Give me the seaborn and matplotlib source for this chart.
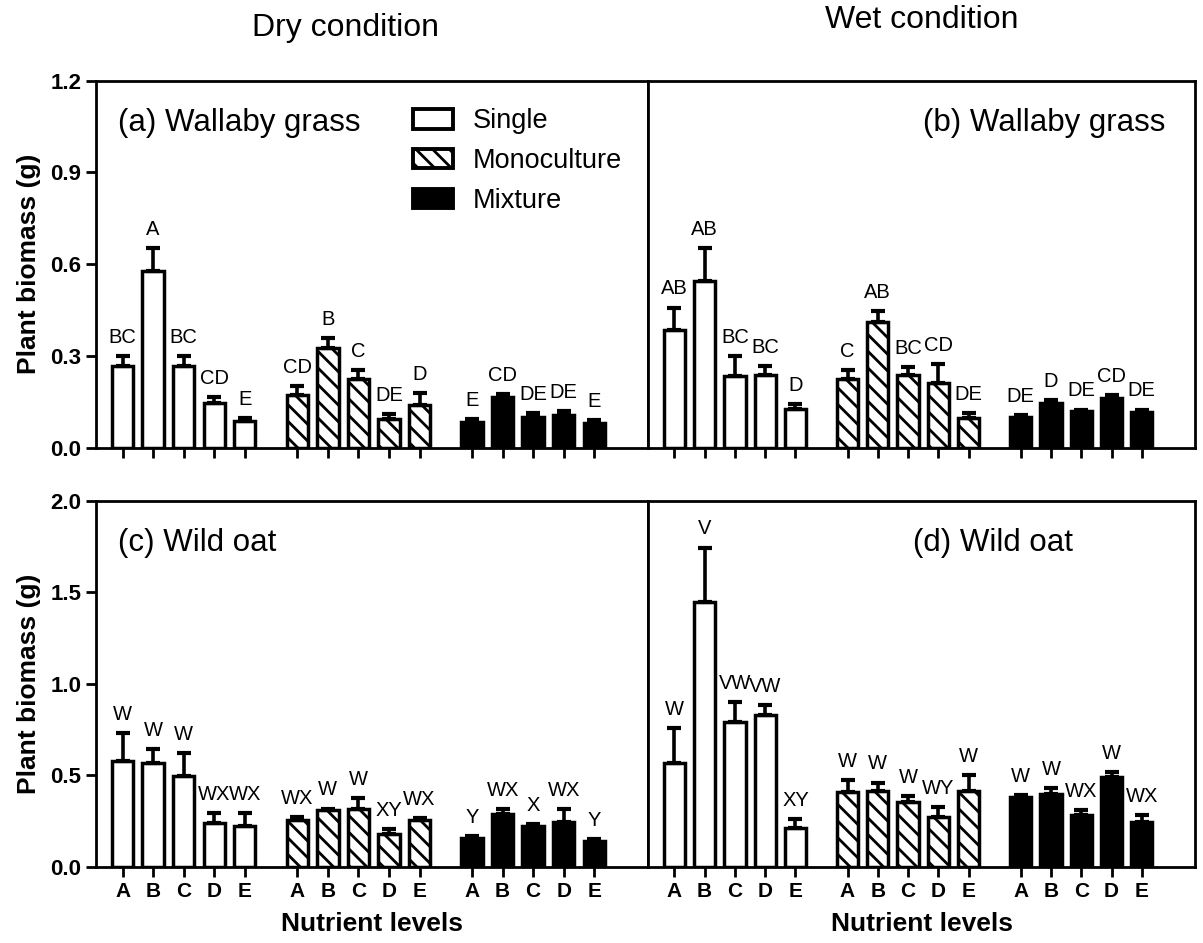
import matplotlib
matplotlib.use("Agg")
import matplotlib.pyplot as plt
from matplotlib.patches import Patch
import seaborn as sns
import numpy as np

levels = ["A", "B", "C", "D", "E"]
treatments = ["Single", "Monoculture", "Mixture"]

# rows: Single, Monoculture, Mixture ; columns: nutrient levels A-E
a_mean = [[0.267, 0.578, 0.267, 0.146, 0.087],
          [0.172, 0.327, 0.224, 0.094, 0.140],
          [0.083, 0.166, 0.100, 0.106, 0.080]]
a_se = [[0.033, 0.075, 0.033, 0.019, 0.010],
        [0.030, 0.031, 0.030, 0.016, 0.038],
        [0.011, 0.009, 0.013, 0.013, 0.010]]
a_let = [["BC", "A", "BC", "CD", "E"],
         ["CD", "B", "C", "DE", "D"],
         ["E", "CD", "DE", "DE", "E"]]

b_mean = [[0.385, 0.545, 0.235, 0.238, 0.127],
          [0.224, 0.411, 0.237, 0.213, 0.098],
          [0.100, 0.145, 0.120, 0.161, 0.118]]
b_se = [[0.073, 0.108, 0.065, 0.029, 0.015],
        [0.030, 0.036, 0.027, 0.060, 0.015],
        [0.006, 0.010, 0.005, 0.010, 0.007]]
b_let = [["AB", "AB", "BC", "BC", "D"],
         ["C", "AB", "BC", "CD", "DE"],
         ["DE", "D", "DE", "CD", "DE"]]

c_mean = [[0.578, 0.567, 0.496, 0.240, 0.223],
          [0.256, 0.311, 0.316, 0.180, 0.256],
          [0.158, 0.289, 0.223, 0.245, 0.142]]
c_se = [[0.153, 0.076, 0.125, 0.054, 0.071],
        [0.016, 0.007, 0.060, 0.027, 0.011],
        [0.011, 0.027, 0.011, 0.071, 0.011]]
c_let = [["W", "W", "W", "WX", "WX"],
         ["WX", "W", "W", "XY", "WX"],
         ["Y", "WX", "X", "WX", "Y"]]

d_mean = [[0.567, 1.445, 0.790, 0.828, 0.213],
          [0.409, 0.414, 0.354, 0.272, 0.414],
          [0.380, 0.400, 0.283, 0.490, 0.245]]
d_se = [[0.191, 0.299, 0.110, 0.055, 0.049],
        [0.065, 0.046, 0.033, 0.055, 0.086],
        [0.010, 0.030, 0.027, 0.027, 0.038]]
d_let = [["W", "V", "VW", "VW", "XY"],
         ["W", "W", "W", "WY", "W"],
         ["W", "W", "WX", "W", "WX"]]

sns.set_style("ticks")
plt.rcParams["font.family"] = ["Liberation Sans", "DejaVu Sans"]
plt.rcParams["hatch.linewidth"] = 2.0
plt.rcParams["axes.linewidth"] = 2.0
for key in ["text.color", "axes.labelcolor", "axes.edgecolor",
            "xtick.color", "ytick.color"]:
    plt.rcParams[key] = "black"

fills = ["white", "white", "black"]
hatches = ["", "\\\\", ""]
group_step = 5.72

fig = plt.figure(figsize=(12.03, 9.43), dpi=100)
ax_a = fig.add_axes([0.0798, 0.5252, 0.4589, 0.3892])
ax_b = fig.add_axes([0.5387, 0.5252, 0.4547, 0.3892])
ax_c = fig.add_axes([0.0798, 0.0809, 0.4589, 0.3881])
ax_d = fig.add_axes([0.5387, 0.0809, 0.4547, 0.3881])

panels = [
    (ax_a, a_mean, a_se, a_let, "(a) Wallaby grass", 0.040, 1.2, 0.3),
    (ax_b, b_mean, b_se, b_let, "(b) Wallaby grass", 0.502, 1.2, 0.3),
    (ax_c, c_mean, c_se, c_let, "(c) Wild oat", 0.040, 2.0, 0.5),
    (ax_d, d_mean, d_se, d_let, "(d) Wild oat", 0.484, 2.0, 0.5),
]

for k, (ax, means, ses, lets, label, lx, ymax, ystep) in enumerate(panels):
    all_pos = []
    for g in range(3):
        pos = np.arange(5) + g * group_step
        all_pos.extend(pos)
        sns.barplot(x=pos, y=means[g], native_scale=True, width=0.7,
                    color=fills[g], saturation=1, edgecolor="black",
                    linewidth=2.5, hatch=hatches[g], errorbar=None, ax=ax)
        ax.errorbar(pos, means[g], yerr=[np.zeros(5), ses[g]], fmt="none",
                    ecolor="black", elinewidth=2.6, capsize=5, capthick=3)
        for x, m, s, t in zip(pos, means[g], ses[g], lets[g]):
            ax.annotate(t, (x, m + s), xytext=(0, 9.5),
                        textcoords="offset points", ha="center",
                        va="baseline", fontsize=14.5)

    ax.set_xlim(-0.87, 17.2)
    ax.set_ylim(0, ymax)
    ax.set_xticks(all_pos)
    ax.set_yticks(np.arange(0, ymax + 1e-9, ystep))
    ax.tick_params(axis="both", direction="out", length=7, width=2)
    ax.text(lx, 0.862, label, transform=ax.transAxes, fontsize=22.5,
            ha="left", va="baseline")
    for sp in ax.spines.values():
        sp.set_visible(True)
        sp.set_linewidth(2)

    if k < 2:
        ax.set_xticklabels([])
    else:
        ax.set_xticklabels(levels * 3, fontsize=15, fontweight="bold")
        ax.tick_params(axis="x", pad=4)
        ax.set_xlabel("Nutrient levels", fontsize=19, fontweight="bold",
                      labelpad=8)

    if k % 2 == 0:
        ax.set_yticklabels([f"{v:.1f}" for v in ax.get_yticks()],
                           fontsize=16, fontweight="bold")
        ax.set_ylabel("Plant biomass (g)", fontsize=19, fontweight="bold")
        ax.yaxis.set_label_coords(-0.10, 0.5)
    else:
        ax.set_yticks([])
        ax.set_ylabel("")

handles = [Patch(facecolor=fills[i], edgecolor="black", hatch=hatches[i],
                 linewidth=2.8, label=treatments[i]) for i in range(3)]
ax_a.legend(handles=handles, loc="upper left", bbox_to_anchor=(0.574, 0.925),
            frameon=False, fontsize=19.5, handlelength=1.48, handleheight=0.74,
            handletextpad=0.74, labelspacing=0.51, borderpad=0, borderaxespad=0)

fig.text(346 / 1203, 1 - 28 / 943, "Dry condition", fontsize=23,
         ha="center", va="center")
fig.text(922 / 1203, 1 - 20 / 943, "Wet condition", fontsize=23,
         ha="center", va="center")

fig.savefig("out.png", dpi=100)
plt.close(fig)
